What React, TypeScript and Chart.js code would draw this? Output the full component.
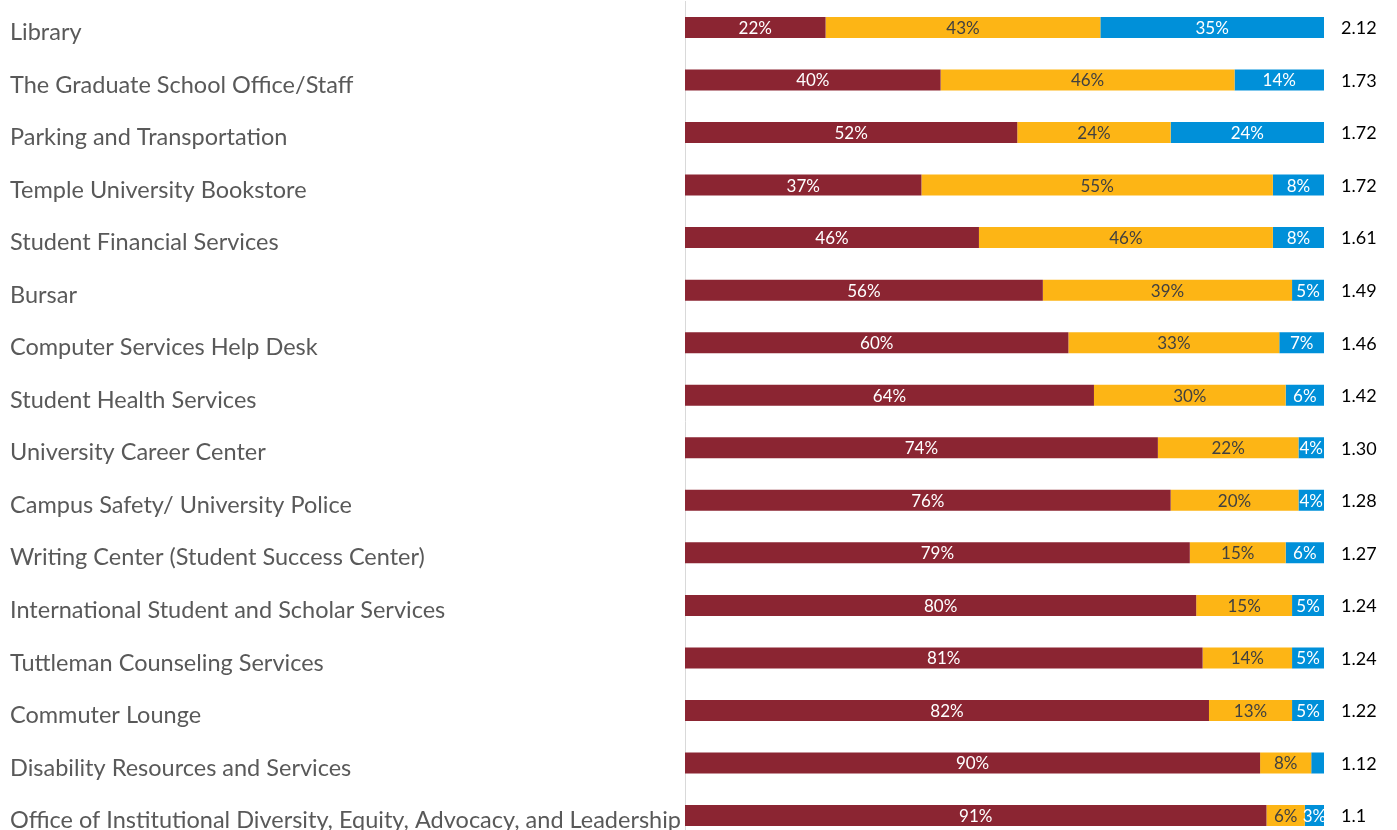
import React, { useEffect, useRef } from "react";
import { Chart, registerables } from "chart.js";

Chart.register(...registerables);

const categories = [
  "Library",
  "The Graduate School Office/Staff",
  "Parking and Transportation",
  "Temple University Bookstore",
  "Student Financial Services",
  "Bursar",
  "Computer Services Help Desk",
  "Student Health Services",
  "University Career Center",
  "Campus Safety/ University Police",
  "Writing Center (Student Success Center)",
  "International Student and Scholar Services",
  "Tuttleman Counseling Services",
  "Commuter Lounge",
  "Disability Resources and Services",
  "Office of Institutional Diversity, Equity, Advocacy, and Leadership",
];

const seriesA = [22, 40, 52, 37, 46, 56, 60, 64, 74, 76, 79, 80, 81, 82, 90, 91];
const seriesB = [43, 46, 24, 55, 46, 39, 33, 30, 22, 20, 15, 15, 14, 13, 8, 6];
const seriesC = [35, 14, 24, 8, 8, 5, 7, 6, 4, 4, 6, 5, 5, 5, 2, 3];
const meanLabels = ["2.12", "1.73", "1.72", "1.72", "1.61", "1.49", "1.46", "1.42", "1.30", "1.28", "1.27", "1.24", "1.24", "1.22", "1.12", "1.1"];

const COLORS = ["#8B2532", "#FDB515", "#0090D9"];
const LABEL_COLORS = ["#FFFFFF", "#404040", "#FFFFFF"];

const labelPlugin = {
  id: "barLabels",
  afterDatasetsDraw(chart: any) {
    const ctx = chart.ctx;
    const area = chart.chartArea;
    ctx.save();
    ctx.beginPath();
    ctx.rect(area.left, area.top, area.right - area.left, area.bottom - area.top);
    ctx.clip();
    ctx.font = "17px Lato";
    ctx.textAlign = "center";
    ctx.textBaseline = "middle";
    chart.data.datasets.forEach((ds: any, di: number) => {
      const meta = chart.getDatasetMeta(di);
      meta.data.forEach((bar: any, i: number) => {
        const v = ds.data[i];
        if (v < 3) return;
        const cx = (bar.x + bar.base) / 2;
        ctx.fillStyle = LABEL_COLORS[di];
        ctx.fillText(v + "%", cx, bar.y + 1);
      });
    });
    ctx.restore();

    ctx.save();
    ctx.font = "18px Lato";
    ctx.fillStyle = "#000000";
    ctx.textAlign = "left";
    ctx.textBaseline = "middle";
    const meta0 = chart.getDatasetMeta(0);
    meta0.data.forEach((bar: any, i: number) => {
      ctx.fillText(meanLabels[i], area.right + 17, bar.y + 1);
    });
    ctx.restore();
  },
};

export default function App() {
  const ref = useRef<HTMLCanvasElement | null>(null);
  useEffect(() => {
    if (!ref.current) return;
    const chart = new Chart(ref.current, {
      type: "bar",
      data: {
        labels: categories,
        datasets: [
          { label: "A", data: seriesA, backgroundColor: COLORS[0] },
          { label: "B", data: seriesB, backgroundColor: COLORS[1] },
          { label: "C", data: seriesC, backgroundColor: COLORS[2] },
        ],
      },
      options: {
        indexAxis: "y",
        animation: false,
        responsive: false,
        maintainAspectRatio: false,
        layout: { padding: { top: 0, bottom: 0, right: 73, left: 10 } },
        datasets: { bar: { barPercentage: 0.8, categoryPercentage: 0.5 } },
        plugins: { legend: { display: false }, tooltip: { enabled: false } },
        scales: {
          x: { stacked: true, min: 0, max: 100, display: false },
          y: {
            stacked: true,
            grid: { display: false, drawTicks: false },
            border: { display: true, color: "#D9D9D9", width: 1 },
            ticks: {
              crossAlign: "far",
              padding: 0,
              labelOffset: 5,
              color: "#595959",
              font: { family: "Lato", size: 23.5, lineHeight: 0.1 },
            },
            afterFit(scale: any) {
              scale.width = 675;
            },
          },
        },
      },
      plugins: [labelPlugin],
    });
    return () => chart.destroy();
  }, []);
  return (
    <div style={{ position: "fixed", left: 0, top: 0, width: 1397, height: 830, overflow: "hidden", background: "#fff" }}>
      <canvas ref={ref} width={1397} height={843} style={{ display: "block", width: 1397, height: 843 }} />
    </div>
  );
}
